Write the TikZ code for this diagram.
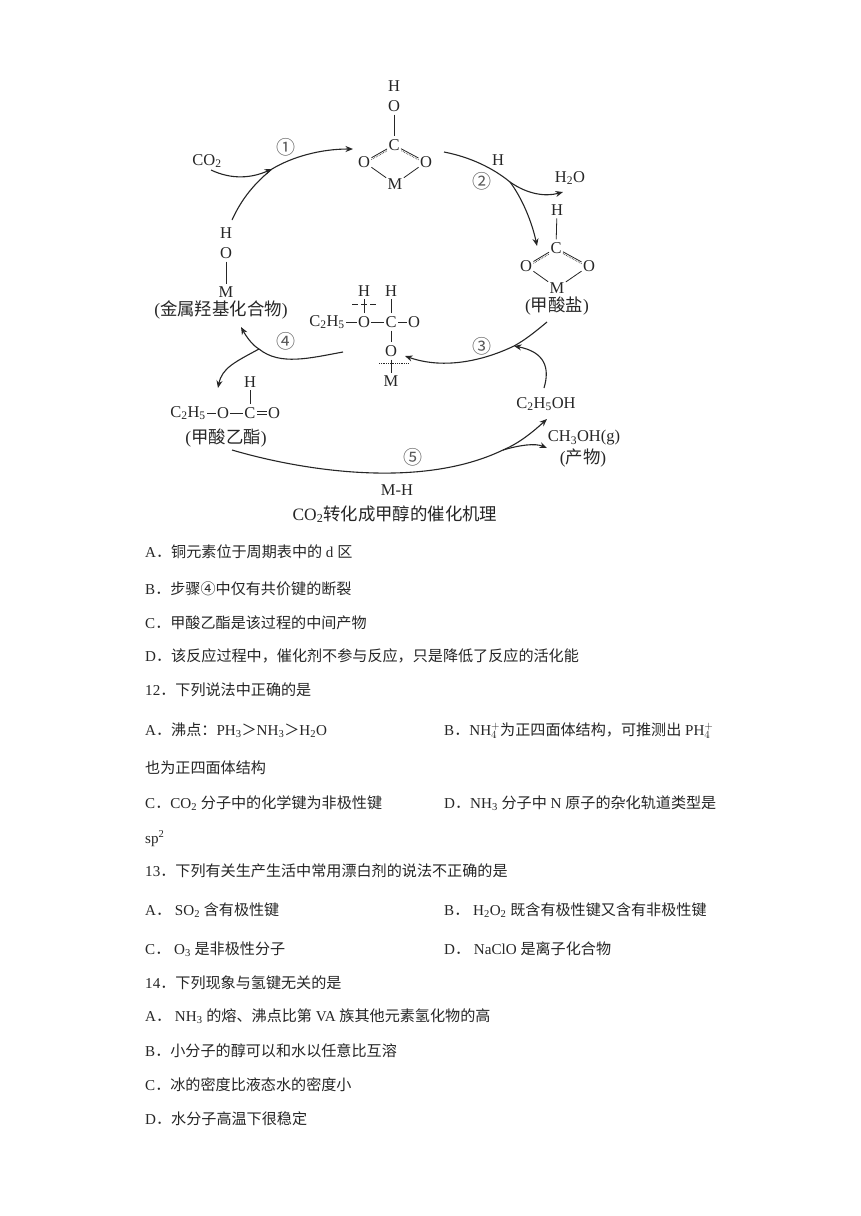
\documentclass[tikz,border=0pt]{standalone}
\usepackage{fontspec}
\setmainfont{Liberation Serif}
\newfontfamily\cjk{Noto Sans CJK SC}
\usetikzlibrary{arrows.meta}
\newcommand{\zh}[1]{{\cjk #1}}
\newcommand{\low}[1]{\textsubscript{#1}}
\definecolor{ink}{HTML}{262626}
\tikzset{
  atom/.style={inner xsep=1.5pt,inner ysep=3pt,outer sep=0pt,text=ink,font=\fontsize{16.5}{18}\selectfont},
  lab/.style={inner sep=0pt,text=ink,font=\fontsize{17.4}{19}\selectfont},
  step num/.style={inner sep=0pt,text=black!65,font=\fontsize{19}{20}\selectfont\cjk},
  body/.style={anchor=base west,inner sep=0pt,text=ink,font=\fontsize{15.1}{17}\selectfont},
  bond/.style={draw=ink,line width=0.8pt},
  flow/.style={draw=ink,line width=1.1pt},
  arr/.style={flow,-{Stealth[length=7.5pt,width=6pt]}},
  dbond/.style={draw=ink,line width=0.7pt,densely dotted}
}
\begin{document}
\begin{tikzpicture}[x=1pt,y=-1pt]
\useasboundingbox (0,0) rectangle (860,1216);
\fill[white] (0,0) rectangle (860,1216);
% --- top intermediate
\node[atom] (a1h) at (394,86) {H};
\node[atom] (a1o) at (394,106) {O};
\node[atom] (a1c) at (394,145) {C};
\node[atom] (a1l) at (364,162) {O};
\node[atom] (a1r) at (426,162) {O};
\node[atom] (a1m) at (395,184) {M};
\draw[bond] (a1o) -- (a1c);
\draw[bond] (a1l) -- (a1c);
\draw[bond] (a1r) -- (a1c);
\draw[dbond,transform canvas={yshift=-1.8pt}] (a1l) -- (a1c);
\draw[dbond,transform canvas={yshift=-1.8pt}] (a1r) -- (a1c);
\draw[bond] (a1l) -- (a1m);
\draw[bond] (a1r) -- (a1m);
% --- formate
\node[atom] (a2h) at (557,210) {H};
\node[atom] (a2c) at (556,248) {C};
\node[atom] (a2l) at (526,266) {O};
\node[atom] (a2r) at (589,266) {O};
\node[atom] (a2m) at (557,288) {M};
\node[lab] (a2t) at (557,306) {(\zh{甲酸盐})};
\draw[bond] (a2h) -- (a2c);
\draw[bond] (a2l) -- (a2c);
\draw[bond] (a2r) -- (a2c);
\draw[dbond,transform canvas={yshift=-1.8pt}] (a2l) -- (a2c);
\draw[dbond,transform canvas={yshift=-1.8pt}] (a2r) -- (a2c);
\draw[bond] (a2l) -- (a2m);
\draw[bond] (a2r) -- (a2m);
% --- central intermediate
\node[atom] (c1h) at (364,291) {H};
\node[atom] (c2h) at (391,291) {H};
\node[atom] (ceth) at (327,322) {C\low{2}H\low{5}};
\node[atom] (co1) at (364,322) {O};
\node[atom] (cc) at (391,322) {C};
\node[atom] (co2) at (414,322) {O};
\node[atom] (co3) at (391,351) {O};
\node[atom] (cm) at (391,381) {M};
\coordinate (cdl) at (352,304);
\coordinate (cdr) at (376,304);
\coordinate (mdl) at (379,363);
\coordinate (mdr) at (409,363);
\draw[bond] (ceth) -- (co1);
\draw[bond] (co1) -- (cc);
\draw[bond] (cc) -- (co2);
\draw[bond] (c2h) -- (cc);
\draw[bond] (cc) -- (co3);
\draw[bond] (c1h) -- (co1);
\draw[bond] (co3) -- (cm);
\draw[bond,line width=1pt,dash pattern=on 6pt off 3pt] (cdl) -- (cdr);
\draw[bond,densely dotted,line width=1pt] (mdl) -- (mdr);
% --- M-OH
\node[atom] (bh) at (226,233) {H};
\node[atom] (bo) at (226,253) {O};
\node[atom] (bm) at (226,292) {M};
\node[lab] (bt) at (221,310) {(\zh{金属羟基化合物})};
\draw[bond] (bo) -- (bm);
% --- ethyl formate
\node[atom] (eh) at (250,382) {H};
\node[atom] (eeth) at (188,413) {C\low{2}H\low{5}};
\node[atom] (eo1) at (223,413) {O};
\node[atom] (ec) at (250,413) {C};
\node[atom] (eo2) at (274,413) {O};
\node[lab] (et) at (226,438) {(\zh{甲酸乙酯})};
\draw[bond] (eeth) -- (eo1);
\draw[bond] (eo1) -- (ec);
\draw[bond] (eh) -- (ec);
\draw[bond,transform canvas={yshift=-1.5pt}] (ec) -- (eo2);
\draw[bond,transform canvas={yshift=1.5pt}] (ec) -- (eo2);
% --- species
\node[atom] (co) at (207,161) {CO\low{2}};
\node[atom] (wat) at (570,178) {H\low{2}O};
\node[atom] (hl) at (498,160) {H};
\node[atom] (etoh) at (546,404) {C\low{2}H\low{5}OH};
\node[atom] (meoh) at (584,438) {CH\low{3}OH(g)};
\node[lab] (prod) at (583,458) {(\zh{产物})};
\node[atom] (mh) at (397,490) {M-H};
\node[lab] (cap) at (395,514) {CO\low{2}\zh{转化成甲醇的催化机理}};
\node[step num] (s1) at (286,147) {①};
\node[step num] (s2) at (482,181) {②};
\node[step num] (s3) at (482,346) {③};
\node[step num] (s4) at (286,341) {④};
\node[step num] (s5) at (413,457) {⑤};
% --- flow coordinates
\coordinate (j1) at (272,169);
\coordinate (f1s) at (232,220);
\coordinate (f1e) at (353,149);
\coordinate (co2s) at (211,170);
\coordinate (f2s) at (444,152);
\coordinate (j2) at (510,182);
\coordinate (f2e) at (537,246);
\coordinate (w2e) at (563,192);
\coordinate (f3s) at (547,322);
\coordinate (j3) at (514,346);
\coordinate (f3e) at (405,356);
\coordinate (et3s) at (544,388);
\coordinate (f4s) at (343,352);
\coordinate (j4) at (259,349);
\coordinate (f4e) at (241,327);
\coordinate (e4e) at (218,388);
\coordinate (f5s) at (232,450);
\coordinate (j5) at (503,450);
\coordinate (f5e) at (547,419);
\coordinate (m5e) at (547,448);
% --- flows
\draw[arr] (co2s) .. controls (232,180) and (252,178) .. (j1);
\draw[flow] (f1s) .. controls (242,198) and (255,183) .. (j1);
\draw[arr] (j1) .. controls (292,157) and (320,149) .. (f1e);
\draw[flow] (f2s) .. controls (470,157) and (493,168) .. (j2);
\draw[arr] (j2) .. controls (522,198) and (532,222) .. (f2e);
\draw[arr] (j2) .. controls (527,194) and (545,197) .. (w2e);
\draw[flow] (f3s) .. controls (535,332) and (525,340) .. (j3);
\draw[arr] (j3) .. controls (485,360) and (445,370) .. (f3e);
\draw[arr] (et3s) .. controls (550,368) and (545,352) .. (j3);
\draw[flow] (f4s) .. controls (310,358) and (280,366) .. (j4);
\draw[arr] (j4) .. controls (252,345) and (246,336) .. (f4e);
\draw[arr] (j4) .. controls (235,362) and (222,368) .. (e4e);
\draw[flow] (f5s) .. controls (300,470) and (420,490) .. (j5);
\draw[arr] (j5) .. controls (520,443) and (535,430) .. (f5e);
\draw[arr] (j5) .. controls (520,445) and (535,443) .. (m5e);
% --- body text
\node[body] (t01) at (145,557) {A\zh{．铜元素位于周期表中的} d \zh{区}};
\node[body] (t02) at (145,594) {B\zh{．步骤④中仅有共价键的断裂}};
\node[body] (t03) at (145,628) {C\zh{．甲酸乙酯是该过程的中间产物}};
\node[body] (t04) at (145,661) {D\zh{．该反应过程中，催化剂不参与反应，只是降低了反应的活化能}};
\node[body] (t05) at (145,695) {12\zh{．下列说法中正确的是}};
\node[body] (t06) at (145,735) {A\zh{．沸点：}PH\low{3}\zh{＞}NH\low{3}\zh{＞}H\low{2}O};
\node[body] (t07) at (444,735) {B\zh{．}NH\ensuremath{^{+}_{4}}\zh{为正四面体结构，可推测出} PH\ensuremath{^{+}_{4}}};
\node[body] (t08) at (145,773) {\zh{也为正四面体结构}};
\node[body] (t09) at (145,808) {C\zh{．}CO\low{2} \zh{分子中的化学键为非极性键}};
\node[body] (t10) at (444,808) {D\zh{．}NH\low{3} \zh{分子中} N \zh{原子的杂化轨道类型是}};
\node[body] (t11) at (145,843) {sp\textsuperscript{2}};
\node[body] (t12) at (145,876) {13\zh{．下列有关生产生活中常用漂白剂的说法不正确的是}};
\node[body] (t13) at (145,915) {A\zh{．} SO\low{2} \zh{含有极性键}};
\node[body] (t14) at (444,915) {B\zh{．} H\low{2}O\low{2} \zh{既含有极性键又含有非极性键}};
\node[body] (t15) at (145,954) {C\zh{．} O\low{3} \zh{是非极性分子}};
\node[body] (t16) at (444,954) {D\zh{．} NaClO \zh{是离子化合物}};
\node[body] (t17) at (145,988) {14\zh{．下列现象与氢键无关的是}};
\node[body] (t18) at (145,1021) {A\zh{．} NH\low{3} \zh{的熔、沸点比第} VA \zh{族其他元素氢化物的高}};
\node[body] (t19) at (145,1056) {B\zh{．小分子的醇可以和水以任意比互溶}};
\node[body] (t20) at (145,1090) {C\zh{．冰的密度比液态水的密度小}};
\node[body] (t21) at (145,1124) {D\zh{．水分子高温下很稳定}};
\end{tikzpicture}
\end{document}
